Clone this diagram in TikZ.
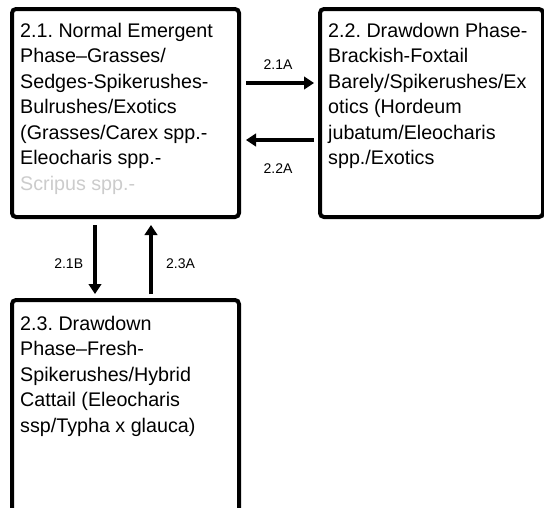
\documentclass[tikz,border=0pt]{standalone}
\usepackage{fontspec}
\setmainfont{Liberation Sans}
\usetikzlibrary{arrows.meta}

\tikzset{
  statebox/.style={draw=black, line width=4pt, rounded corners=4pt,
    inner sep=0pt, anchor=north west},
  boxtext/.style={anchor=base west, inner sep=0pt, align=left,
    font=\fontsize{19.7}{25.5}\selectfont},
  trans/.style={line width=3.2pt, -{Triangle[length=10pt,width=12.5pt]}},
  translabel/.style={anchor=base, inner sep=0pt, font=\fontsize{14}{16}\selectfont},
}

\begin{document}
\frenchspacing
\begin{tikzpicture}[x=1pt,y=-1pt]
\useasboundingbox (0,0) rectangle (544,507);
\clip (0,0) rectangle (544,507);
\fill[white] (0,0) rectangle (544,507);

% state boxes
\node[statebox, minimum width=227pt, minimum height=208pt] (b1) at (10,7) {};
\node[statebox, minimum width=223pt, minimum height=208pt] (b2) at (318,7) {};
\node[statebox, minimum width=227pt, minimum height=240pt] (b3) at (10,298) {};

% box texts
\node[boxtext] (t1) at (20,37) {\parbox[t]{215pt}{\raggedright
  2.1. Normal Emergent\\
  Phase–Grasses/\\
  Sedges-Spikerushes-\\
  Bulrushes/Exotics\\
  (Grasses/Carex spp.-\\
  Eleocharis spp.-\\
  \textcolor{black!20}{Scripus spp.-}}};
\node[boxtext] (t2) at (328,37) {\parbox[t]{212pt}{\raggedright
  2.2. Drawdown Phase-\\
  Brackish-Foxtail\\
  Barely/Spikerushes/Ex\\
  otics (Hordeum\\
  jubatum/Eleocharis\\
  spp./Exotics}};
\node[boxtext] (t3) at (20,330) {\parbox[t]{215pt}{\raggedright
  2.3. Drawdown\\
  Phase–Fresh-\\
  Spikerushes/Hybrid\\
  Cattail (Eleocharis\\
  ssp/Typha x glauca)}};

% transitions
\draw[trans] ([xshift=5pt]b1.east |- 0,83) -- ([xshift=-4pt]b2.west |- 0,83);
\draw[trans] ([xshift=-4pt]b2.west |- 0,140) -- ([xshift=5pt]b1.east |- 0,140);
\draw[trans] ([yshift=-6pt]b1.south -| 95,0) -- ([yshift=4pt]b3.north -| 95,0);
\draw[trans] ([yshift=4pt]b3.north -| 151,0) -- ([yshift=-6pt]b1.south -| 151,0);

% transition labels
\node[translabel] (l21a) at (278,69.5) {2.1A};
\node[translabel] (l22a) at (278,173) {2.2A};
\node[translabel] (l21b) at (68.7,268.5) {2.1B};
\node[translabel] (l23a) at (180.5,268.5) {2.3A};
\end{tikzpicture}
\end{document}
